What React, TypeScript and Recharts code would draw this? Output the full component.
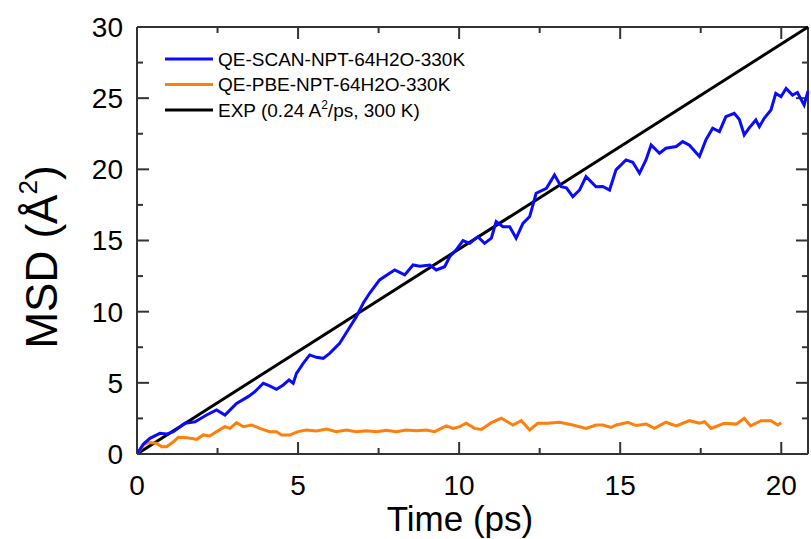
import { Line, LineChart, ReferenceLine, XAxis, YAxis } from "recharts";

// values (time in ps, MSD in Å^2)
const scanTime = [
  0, 0.2, 0.4, 0.71, 0.92, 1.13, 1.49, 1.8, 2.16, 2.47, 2.73, 3.09, 3.45, 3.66,
  3.92, 4.1, 4.33, 4.54, 4.72, 4.85, 4.95, 5.16, 5.36, 5.57, 5.78, 5.98, 6.29,
  6.55, 6.81, 7.02, 7.22, 7.53, 7.84, 8.0, 8.31, 8.57, 8.78, 9.09, 9.29, 9.55,
  9.71, 9.91, 10.12, 10.33, 10.58, 10.79, 11.0, 11.15, 11.36, 11.57, 11.77,
  11.98, 12.19, 12.39, 12.71, 12.96, 13.17, 13.33, 13.53, 13.74, 13.94, 14.25,
  14.46, 14.67, 14.87, 15.18, 15.39, 15.6, 15.8, 15.96, 16.22, 16.42, 16.74,
  16.94, 17.15, 17.46, 17.66, 17.87, 18.08, 18.28, 18.54, 18.7, 18.85, 19.0,
  19.21, 19.32, 19.47, 19.68, 19.83, 19.99, 20.15, 20.35, 20.5, 20.71, 20.83,
];
const scanMsd = [
  0, 0.7, 1.1, 1.45, 1.4, 1.57, 2.16, 2.27, 2.74, 3.09, 2.74, 3.56, 4.03, 4.38,
  4.97, 4.8, 4.55, 4.85, 5.2, 4.97, 5.67, 6.37, 6.96, 6.79, 6.72, 7.07, 7.78,
  8.71, 9.65, 10.59, 11.29, 12.23, 12.7, 12.93, 12.58, 13.28, 13.2, 13.28, 12.93,
  13.16, 13.87, 14.34, 15.0, 14.8, 15.27, 14.8, 15.16, 16.33, 15.97, 15.97,
  15.16, 16.2, 16.68, 18.32, 18.67, 19.6, 18.78, 18.7, 18.08, 18.55, 19.49,
  18.78, 18.8, 18.55, 19.96, 20.66, 20.5, 19.73, 20.66, 21.71, 21.13, 21.48,
  21.6, 21.95, 21.7, 20.9, 22.07, 22.89, 22.65, 23.7, 23.94, 23.5, 22.42, 22.9,
  23.47, 23.0, 23.59, 24.17, 25.34, 25.1, 25.69, 25.22, 25.4, 24.52, 25.5,
];

const pbeTime = [
  0, 0.2, 0.35, 0.6, 0.77, 0.92, 1.13, 1.28, 1.54, 1.85, 2.06, 2.26, 2.47, 2.73,
  2.89, 3.09, 3.3, 3.56, 3.81, 4.12, 4.33, 4.49, 4.75, 5.0, 5.26, 5.57, 5.88,
  6.19, 6.5, 6.81, 7.12, 7.43, 7.74, 8.05, 8.36, 8.67, 8.98, 9.24, 9.6, 9.81,
  10.02, 10.22, 10.48, 10.69, 11.0, 11.31, 11.67, 11.93, 12.19, 12.44, 12.75,
  13.12, 13.53, 13.94, 14.25, 14.46, 14.72, 14.88, 15.24, 15.5, 15.81, 16.06,
  16.42, 16.74, 17.15, 17.46, 17.62, 17.82, 18.23, 18.6, 18.85, 19.05, 19.37,
  19.68, 19.89, 20.0,
];
const pbeMsd = [
  0, 0.63, 0.8, 0.75, 0.51, 0.51, 0.86, 1.17, 1.15, 1.03, 1.34, 1.27, 1.57, 1.92,
  1.8, 2.2, 1.92, 2.04, 1.8, 1.57, 1.57, 1.34, 1.34, 1.57, 1.69, 1.62, 1.76,
  1.57, 1.69, 1.57, 1.64, 1.57, 1.66, 1.57, 1.69, 1.64, 1.69, 1.57, 1.97, 1.8,
  1.92, 2.16, 1.8, 1.73, 2.2, 2.51, 2.04, 2.34, 1.69, 2.16, 2.16, 2.23, 2.04,
  1.8, 2.04, 2.04, 1.87, 2.04, 2.23, 2.0, 2.1, 1.8, 2.23, 1.97, 2.34, 2.16, 2.27,
  1.8, 2.16, 2.1, 2.51, 1.97, 2.34, 2.34, 2.04, 2.2,
];

const expTime = [0, 20.83];
const expMsd = [0, 30];

const xMajor = [0, 5, 10, 15, 20];
const xMinor = [2.5, 7.5, 12.5, 17.5];
const yMajor = [0, 5, 10, 15, 20, 25, 30];
const yMinor = [2.5, 7.5, 12.5, 17.5, 22.5, 27.5];

const seriesColors = ["#0a0aff", "#ff7f0a", "#000000"];
const FRAME = "#333333";

const X_MAX = 20.83;
const Y_MAX = 30;
// tick lengths in axis units (12px / 6px at ~32.2 px per ps and ~14.2 px per Å²)
const X_TICK = { major: 12 / 32.25, minor: 6 / 32.25 };
const Y_TICK = { major: 12 / 14.23, minor: 6 / 14.23 };

const toRows = (ts: number[], vs: number[]) =>
  ts.map((t, i) => ({ t, msd: vs[i] }));

const scanData = toRows(scanTime, scanMsd);
const pbeData = toRows(pbeTime, pbeMsd);
const expData = toRows(expTime, expMsd);

const FONT = "'Liberation Sans', Arial, sans-serif";
const tickStyle = { fill: "#000000", fontSize: 28, fontFamily: FONT };

const tickSeg = (key: string, a: { x: number; y: number }, b: { x: number; y: number }) => (
  <ReferenceLine
    key={key}
    segment={[a, b]}
    stroke={FRAME}
    strokeWidth={2}
    ifOverflow="visible"
  />
);

const xTickMarks = [
  ...xMajor.map((v) => [v, Y_TICK.major] as const),
  ...xMinor.map((v) => [v, Y_TICK.minor] as const),
].flatMap(([v, len]) => [
  tickSeg(`xb${v}`, { x: v, y: 0 }, { x: v, y: len }),
  tickSeg(`xt${v}`, { x: v, y: Y_MAX }, { x: v, y: Y_MAX - len }),
]);

const yTickMarks = [
  ...yMajor.map((v) => [v, X_TICK.major] as const),
  ...yMinor.map((v) => [v, X_TICK.minor] as const),
].flatMap(([v, len]) => [
  tickSeg(`yl${v}`, { x: 0, y: v }, { x: len, y: v }),
  tickSeg(`yr${v}`, { x: X_MAX, y: v }, { x: X_MAX - len, y: v }),
]);

const Overlay = () => (
  <svg
    width={811}
    height={539}
    style={{ position: "absolute", left: 0, top: 0, pointerEvents: "none" }}
    fontFamily={FONT}
  >
    <text
      x={41}
      y={257}
      transform="rotate(-90, 41, 257)"
      textAnchor="middle"
      dy="0.36em"
      fontSize={44}
      fill="#000000"
    >
      MSD (Å
      <tspan fontSize={26} dy={-20}>2</tspan>
      <tspan dy={20}>)</tspan>
    </text>
    <text x={460} y={531} textAnchor="middle" fontSize={35} fill="#000000">
      Time (ps)
    </text>

    <line x1={165} x2={213} y1={59} y2={59} stroke={seriesColors[0]} strokeWidth={3} />
    <text x={218} y={59} dy="0.36em" fontSize={19} fill="#000000">
      QE-SCAN-NPT-64H2O-330K
    </text>
    <line x1={165} x2={213} y1={84.5} y2={84.5} stroke={seriesColors[1]} strokeWidth={3} />
    <text x={218} y={84.5} dy="0.36em" fontSize={19} fill="#000000">
      QE-PBE-NPT-64H2O-330K
    </text>
    <line x1={165} x2={213} y1={110} y2={110} stroke={seriesColors[2]} strokeWidth={3} />
    <text x={218} y={110} dy="0.36em" fontSize={19} fill="#000000">
      EXP (0.24 A<tspan fontSize={12} dy={-8}>2</tspan>
      <tspan dy={8}>/ps, 300 K)</tspan>
    </text>
  </svg>
);

export default function App() {
  return (
    <div style={{ position: "relative", width: 811, height: 539 }}>
      <style>{"body{margin:0}"}</style>
      <LineChart width={811} height={539} margin={{ top: 27, right: 3, bottom: 0, left: 0 }}>
        <XAxis
          type="number"
          dataKey="t"
          domain={[0, X_MAX]}
          ticks={xMajor}
          interval={0}
          height={85}
          stroke={FRAME}
          strokeWidth={2}
          tickLine={false}
          tickSize={0}
          tickMargin={21}
          tick={tickStyle}
        />
        <YAxis
          type="number"
          domain={[0, Y_MAX]}
          ticks={yMajor}
          interval={0}
          width={137}
          stroke={FRAME}
          strokeWidth={2}
          tickLine={false}
          tickSize={0}
          tickMargin={14}
          tick={tickStyle}
        />
        <ReferenceLine y={Y_MAX} stroke={FRAME} strokeWidth={2} ifOverflow="visible" />
        <ReferenceLine x={X_MAX} stroke={FRAME} strokeWidth={2} ifOverflow="visible" />
        {xTickMarks}
        {yTickMarks}
        <Line
          data={expData}
          dataKey="msd"
          type="linear"
          stroke={seriesColors[2]}
          strokeWidth={3}
          dot={false}
          isAnimationActive={false}
        />
        <Line
          data={pbeData}
          dataKey="msd"
          type="linear"
          stroke={seriesColors[1]}
          strokeWidth={3}
          dot={false}
          isAnimationActive={false}
        />
        <Line
          data={scanData}
          dataKey="msd"
          type="linear"
          stroke={seriesColors[0]}
          strokeWidth={3}
          dot={false}
          isAnimationActive={false}
        />
      </LineChart>
      <Overlay />
    </div>
  );
}
